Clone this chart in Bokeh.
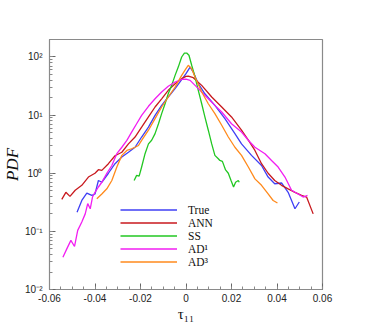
from bokeh.plotting import figure
from bokeh.models import Range1d, LogTicker, FixedTicker, Legend, LegendItem
from bokeh.embed import file_html
from bokeh.resources import INLINE

true_x = [-0.0479, -0.0458, -0.0436, -0.0414, -0.040, -0.0385, -0.037, -0.0341, -0.0312, -0.0282, -0.0253, -0.0224, -0.0195, -0.0165, -0.0136, -0.0107, -0.0078, -0.0048, -0.0019, 0.0, 0.0018, 0.0032, 0.0054, 0.0083, 0.0127, 0.0171, 0.0215, 0.0244, 0.0288, 0.0332, 0.0361, 0.039, 0.042, 0.0449, 0.0479, 0.0498]
true_y = [0.214, 0.34, 0.456, 0.415, 0.44, 0.75, 0.70, 1.0, 1.46, 1.9, 2.3, 2.8, 4.2, 6.2, 9.9, 14.7, 20.5, 28.5, 40.7, 51.6, 67, 55, 34.7, 23.3, 14.7, 8.7, 4.8, 3.2, 2.03, 1.36, 0.86, 0.66, 0.68, 0.47, 0.245, 0.32]

ann_x = [-0.0546, -0.0528, -0.051, -0.0487, -0.0458, -0.0429, -0.040, -0.0385, -0.037, -0.0341, -0.0312, -0.0282, -0.0253, -0.0224, -0.0195, -0.0165, -0.0136, -0.0107, -0.0078, -0.0048, -0.0019, 0.0, 0.001, 0.0032, 0.0069, 0.0113, 0.0157, 0.02, 0.0244, 0.0274, 0.0303, 0.0332, 0.0361, 0.039, 0.042, 0.0449, 0.0479, 0.0508, 0.053, 0.0559]
ann_y = [0.355, 0.47, 0.40, 0.51, 0.62, 0.86, 1.0, 1.15, 1.12, 1.46, 2.0, 2.3, 3.2, 4.2, 6.2, 9.3, 13.8, 19.1, 26.7, 34.7, 42.4, 46.5, 46.8, 44, 32.5, 20.5, 13.8, 9.3, 5.5, 3.7, 2.47, 1.46, 1.0, 0.75, 0.62, 0.54, 0.47, 0.415, 0.39, 0.20]

ss_x = [-0.0228, -0.0217, -0.0206, -0.0195, -0.018, -0.0165, -0.0151, -0.0136, -0.0121, -0.0107, -0.0092, -0.0078, -0.0063, -0.0048, -0.0034, -0.0019, -0.0007, 0.0003, 0.0013, 0.0025, 0.004, 0.0054, 0.0069, 0.0083, 0.0098, 0.0113, 0.0127, 0.0142, 0.0149, 0.016, 0.0174, 0.0186, 0.0198, 0.0209, 0.0218, 0.023, 0.0234]
ss_y = [0.75, 0.92, 0.89, 1.28, 2.17, 3.2, 3.7, 4.8, 7.1, 10.6, 15.7, 23.4, 32.5, 48.3, 67, 100, 117, 117, 107, 72, 45, 26.7, 15.7, 9.3, 5.5, 3.2, 2.03, 1.78, 1.66, 1.6, 1.14, 1.0, 0.75, 0.58, 0.70, 0.75, 0.70]

ad1_x = [-0.0541, -0.0524, -0.0506, -0.049, -0.0476, -0.0458, -0.0443, -0.0432, -0.0421, -0.0411, -0.040, -0.0385, -0.037, -0.0348, -0.0326, -0.0304, -0.0282, -0.026, -0.0239, -0.0217, -0.0195, -0.0165, -0.0136, -0.0107, -0.0078, -0.0048, -0.0019, 0.0, 0.0018, 0.004, 0.0069, 0.0098, 0.0127, 0.0157, 0.02, 0.0244, 0.0274, 0.0303, 0.0347, 0.0376, 0.0405, 0.0435, 0.0464, 0.0493, 0.0515, 0.0534]
ad1_y = [0.036, 0.050, 0.070, 0.055, 0.104, 0.145, 0.20, 0.30, 0.245, 0.39, 0.47, 0.58, 0.70, 1.0, 1.36, 2.17, 2.8, 3.67, 5.1, 7.1, 9.9, 14.2, 19.1, 25, 31.3, 37.1, 41.2, 41.5, 39.6, 32.5, 25, 19.1, 14.7, 11.3, 7.1, 5.1, 3.7, 2.8, 2.17, 1.66, 1.28, 0.86, 0.51, 0.44, 0.39, 0.415]

ad3_x = [-0.0392, -0.037, -0.0348, -0.0326, -0.0304, -0.0282, -0.026, -0.0239, -0.0224, -0.0209, -0.0195, -0.0165, -0.0136, -0.0107, -0.0078, -0.0048, -0.0019, 0.0, 0.001, 0.0025, 0.004, 0.0069, 0.0098, 0.0127, 0.0157, 0.0186, 0.0215, 0.0244, 0.0274, 0.0303, 0.0332, 0.0361, 0.0383, 0.0402]
ad3_y = [0.364, 0.44, 0.54, 0.75, 1.28, 2.03, 2.47, 2.64, 2.8, 3.0, 3.67, 5.5, 8.7, 13.8, 20.5, 30.4, 48.3, 63, 72, 63, 45, 25, 15.7, 10.6, 6.7, 4.2, 2.8, 2.03, 1.28, 0.80, 0.62, 0.44, 0.34, 0.307]

series_names = ["True", "ANN", "SS", "AD\u00b9", "AD\u00b3"]
series_colors = ["#3f3ff5", "#c8191e", "#22c722", "#f21ef2", "#ff8a1c"]

x_ticks = [-0.06, -0.04, -0.02, 0.0, 0.02, 0.04, 0.06]
x_tick_labels = ["-0.06", "-0.04", "-0.02", "0", "0.02", "0.04", "0.06"]
y_ticks = [0.01, 0.1, 1, 10, 100]
y_tick_labels = ["10\u207b\u00b2", "10\u207b\u00b9", "10\u2070", "10\u00b9", "10\u00b2"]
x_title = "\u03c4\u2081\u2081"
y_title = "PDF"

p = figure(frame_width=273, frame_height=250, y_axis_type="log", output_backend="svg",
           toolbar_location=None, x_range=Range1d(-0.06, 0.06), y_range=Range1d(0.01, 200),
           min_border_left=48, min_border_top=39, min_border_right=40, min_border_bottom=36)
p.xgrid.visible = False
p.ygrid.visible = False
p.outline_line_color = "#8a8a8a"
p.outline_line_width = 1.2

data = [(true_x, true_y), (ann_x, ann_y), (ss_x, ss_y), (ad1_x, ad1_y), (ad3_x, ad3_y)]
items = []
for (xs, ys), name, col in zip(data, series_names, series_colors):
    r = p.line(xs, ys, line_color=col, line_width=1.3)
    items.append(LegendItem(label=name, renderers=[r]))

legend = Legend(items=items, location=(71, 21), padding=0, margin=0, spacing=0,
                label_height=13, glyph_height=13, glyph_width=57, label_standoff=11,
                background_fill_alpha=0, border_line_alpha=0,
                label_text_font="Liberation Serif", label_text_font_size="11.5px",
                label_text_font_style="normal", label_text_color="#111111")
p.add_layout(legend, "center")

xa = p.xaxis[0]
xa.ticker = FixedTicker(ticks=x_ticks, minor_ticks=[i * 0.005 - 0.06 for i in range(25)])
xa.major_label_overrides = {t: l for t, l in zip(x_ticks, x_tick_labels)}
ya = p.yaxis[0]
ya.ticker = LogTicker(num_minor_ticks=10)
ya.major_label_overrides = {t: l for t, l in zip(y_ticks, y_tick_labels)}

for ax in (xa, ya):
    ax.axis_line_color = "#8a8a8a"
    ax.major_tick_line_color = "#666666"
    ax.minor_tick_line_color = "#888888"
    ax.major_tick_in = 6
    ax.major_tick_out = 0
    ax.minor_tick_in = 3
    ax.minor_tick_out = 0
    ax.major_label_text_font = "Liberation Sans"
    ax.major_label_text_font_size = "10px"
    ax.major_label_text_color = "#222222"

xa.major_label_standoff = 4
xa.axis_label = x_title
xa.axis_label_text_font = "Liberation Serif"
xa.axis_label_text_font_style = "normal"
xa.axis_label_text_font_size = "15px"
xa.axis_label_text_color = "#111111"
xa.axis_label_standoff = 1
ya.major_label_standoff = 7
ya.axis_label = y_title
ya.axis_label_text_font = "Liberation Serif"
ya.axis_label_text_font_style = "italic"
ya.axis_label_text_font_size = "17px"
ya.axis_label_text_color = "#111111"
ya.axis_label_standoff = 0

open("out.html", "w").write(file_html(p, INLINE))
